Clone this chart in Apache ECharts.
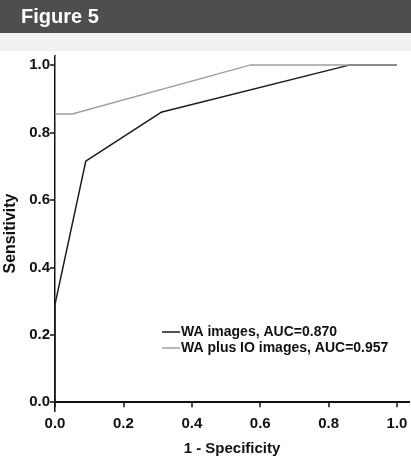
<!DOCTYPE html>
<html>
<head>
<meta charset="utf-8">
<script src="https://cdn.jsdelivr.net/npm/echarts@6/dist/echarts.min.js"></script>
<style>
  html, body { margin: 0; padding: 0; background: #fff; }
  #chart { width: 411px; height: 457px; }
</style>
</head>
<body>
<div id="chart"></div>
<script>
// ROC curves
const waX = [0, 0, 0.09, 0.31, 0.86, 1.0]
const waY = [0, 0.29, 0.715, 0.86, 1.0, 1.0]
const ioX = [0, 0.05, 0.57, 1.0]
const ioY = [0.855, 0.855, 1.0, 1.0]
const tickValues = [0, 0.2, 0.4, 0.6, 0.8, 1.0]
const seriesNames = ['WA images, AUC=0.870', 'WA plus IO images, AUC=0.957']

const font = '"Liberation Sans", Arial, sans-serif'
const chart = echarts.init(document.getElementById('chart'))

const pair = (xs, ys) => xs.map((x, i) => [x, ys[i]])

const option = {
  animation: false,
  textStyle: { fontFamily: font },
  graphic: [
    { type: 'rect', shape: { x: 0, y: 0, width: 411, height: 33 }, style: { fill: '#4e4e4e' } },
    { type: 'rect', shape: { x: 0, y: 33, width: 411, height: 18 }, style: { fill: '#f1f1f1' } },
    {
      type: 'text', left: 21, top: 7,
      style: { text: 'Figure 5', fill: '#fff', font: 'bold 20px ' + font }
    }
  ],
  grid: { left: 55, right: 2, top: 56, bottom: 46, outerBoundsMode: 'none' },
  legend: {
    orient: 'vertical',
    left: 162,
    top: 325,
    icon: 'rect',
    itemWidth: 18,
    itemHeight: 1.5,
    itemGap: 2,
    padding: 0,
    textStyle: { fontSize: 14, fontWeight: 'bold', color: '#111', fontFamily: font, padding: [0, 0, 0, -4] },
    data: seriesNames
  },
  xAxis: [
    {
      type: 'value', min: 0, max: 1.035,
      name: '1 - Specificity', nameLocation: 'middle', nameGap: 30,
      nameTextStyle: { fontSize: 15, fontWeight: 'bold', color: '#111', fontFamily: font },
      splitLine: { show: false },
      axisLine: { lineStyle: { color: '#111', width: 2 } },
      axisTick: { customValues: tickValues, length: 5, lineStyle: { color: '#111', width: 1.5 } },
      axisLabel: {
        customValues: tickValues, formatter: v => v.toFixed(1),
        fontSize: 15, fontWeight: 'bold', color: '#111', margin: 5, showMaxLabel: true
      }
    },
    {
      type: 'value', position: 'top', min: 0, max: 1.035,
      axisLine: { show: true, lineStyle: { color: '#111', width: 2 } },
      axisTick: { show: false }, axisLabel: { show: false }, splitLine: { show: false }
    }
  ],
  yAxis: [
    {
      type: 'value', min: -0.026, max: 1.027,
      name: 'Sensitivity', nameLocation: 'middle', nameGap: 32,
      nameTextStyle: { fontSize: 16, fontWeight: 'bold', color: '#111', fontFamily: font },
      splitLine: { show: false },
      axisLine: { show: true, lineStyle: { color: '#111', width: 2 } },
      axisTick: { show: true, customValues: tickValues, length: 5, lineStyle: { color: '#111', width: 1.5 } },
      axisLabel: {
        customValues: tickValues, formatter: v => v.toFixed(1),
        fontSize: 15, fontWeight: 'bold', color: '#111', margin: 5
      }
    },
    {
      type: 'value', position: 'right', min: -0.026, max: 1.027,
      axisLine: { show: true, lineStyle: { color: '#888', width: 1 } },
      axisTick: { show: false }, axisLabel: { show: false }, splitLine: { show: false }
    }
  ],
  series: [
    {
      name: seriesNames[0], type: 'line', symbol: 'none',
      data: pair(waX, waY),
      lineStyle: { color: '#1a1a1a', width: 1.5 },
      itemStyle: { color: '#1a1a1a' },
      z: 2
    },
    {
      name: seriesNames[1], type: 'line', symbol: 'none',
      data: pair(ioX, ioY),
      lineStyle: { color: '#a0a0a0', width: 1.5 },
      itemStyle: { color: '#a0a0a0' },
      z: 3
    }
  ]
}

chart.setOption(option)
</script>
</body>
</html>
